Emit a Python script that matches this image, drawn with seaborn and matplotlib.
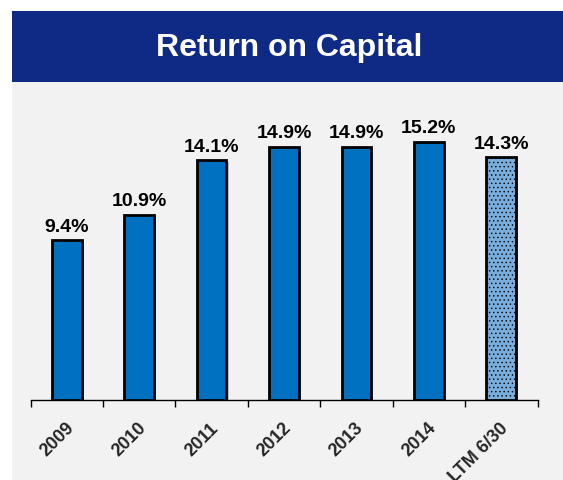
import numpy as np
import pandas as pd
import matplotlib
matplotlib.use("Agg")
import matplotlib.pyplot as plt
import matplotlib.patheffects as pe
from matplotlib.patches import Rectangle
from matplotlib.transforms import ScaledTranslation
import seaborn as sns

# data
periods = ["2009", "2010", "2011", "2012", "2013", "2014", "LTM 6/30"]
roc = [9.4, 10.9, 14.1, 14.9, 14.9, 15.2, 14.3]
bar_colors = ["#0070C0"] * 6 + ["#78ADDC"]

df = pd.DataFrame({"Period": periods, "ROC": roc})

sns.set_theme(style="white")
plt.rcParams["font.family"] = ["Liberation Sans", "DejaVu Sans"]
plt.rcParams["hatch.color"] = "#93C0E8"
plt.rcParams["hatch.linewidth"] = 0.5

W, H = 563, 481
fig = plt.figure(figsize=(W / 100, H / 100), dpi=100)
fig.patch.set_facecolor("white")

# gray panel and blue header band (behind the axes)
fig.patches.append(Rectangle((12 / W, 0), 1, (481 - 83) / H, transform=fig.transFigure,
                             facecolor="#F2F2F2", edgecolor="none", zorder=-2))
fig.patches.append(Rectangle((12 / W, (481 - 83) / H), 1, 71 / H, transform=fig.transFigure,
                             facecolor="#0E2A85", edgecolor="none", zorder=-2))
fig.text(288.7 / W, (481 - 48) / H, "Return on Capital", color="white",
         fontsize=23, fontweight="bold", ha="center", va="center")

# axes: baseline at y=401, 17 px per percent point
ax = fig.add_axes([30.5 / W, (481 - 401) / H, (537.5 - 30.5) / W, 289 / H])
ax.set_facecolor("none")

sns.barplot(data=df, x="Period", y="ROC", hue="Period", palette=bar_colors,
            saturation=1, legend=False, width=0.41, edgecolor="black", linewidth=2,
            ax=ax, zorder=3)
for p in ax.patches:
    p.set_path_effects([pe.SimplePatchShadow(offset=(1.5, -1), shadow_rgbFace="#888888", alpha=0.5),
                        pe.Normal()])
ax.patches[-1].set_hatch("....")

for i, v in enumerate(roc):
    ax.text(i, v + 0.55, f"{v:.1f}%", ha="center", va="baseline",
            fontsize=14, fontweight="bold", color="black")

ax.set_xlim(-0.5, len(periods) - 0.5)
ax.set_ylim(0, 17)
ax.set_yticks([])
ax.set_xlabel("")
ax.set_ylabel("")
for s in ["top", "right", "left"]:
    ax.spines[s].set_visible(False)
ax.spines["bottom"].set_color("black")
ax.spines["bottom"].set_linewidth(1)

ax.set_xticks(np.arange(len(periods)))
ax.set_xticklabels(periods, rotation=45, ha="right", rotation_mode="anchor",
                   fontsize=13, fontweight="bold")
ax.set_xticks(np.arange(len(periods) + 1) - 0.5, minor=True)
ax.tick_params(axis="x", which="major", length=0, pad=13.5)
ax.tick_params(axis="x", which="minor", length=5, width=1, color="black", direction="out", bottom=True)
shift = ScaledTranslation(-1.5 / 100, 0, fig.dpi_scale_trans)
for lbl in ax.get_xticklabels():
    lbl.set_transform(lbl.get_transform() + shift)

fig.savefig("out.png", dpi=100)
